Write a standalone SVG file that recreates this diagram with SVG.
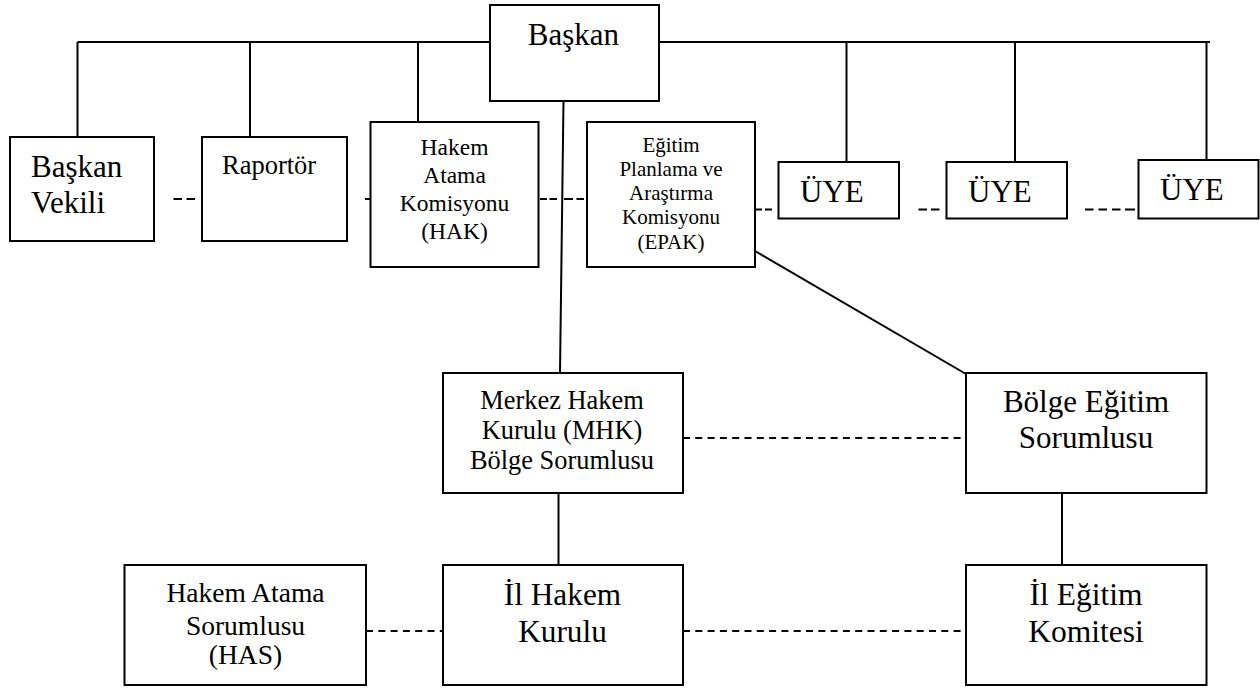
<svg xmlns="http://www.w3.org/2000/svg" width="1260" height="689" viewBox="0 0 1260 689">
<style>
.box{fill:#fff;stroke:#000;stroke-width:2}
.ln{fill:none;stroke:#000;stroke-width:2}
.dt{fill:none;stroke:#000;stroke-width:2}
.dl{fill:none;stroke:#000;stroke-width:2;stroke-dasharray:7 5.3}
text{font-family:"Liberation Serif","Times New Roman",serif;fill:#000}
.c{text-anchor:middle}
</style>
<rect width="1260" height="689" fill="#fff"/>
<g id="connectors">
<path class="ln" d="M77.5,42 H490 M659,42 H1210"/>
<path class="ln" d="M77.5,42 V137 M250,42 V137 M418,42 V122 M846.5,42 V162 M1015,42 V162 M1206.5,42 V160"/>
<path class="ln" d="M563.5,101 L560,373"/>
<path class="ln" d="M558.5,493 V565 M1062,493 V565"/>
<path class="ln" d="M755,251 L966,374"/>
<path class="dt" d="M173.5,199 h8.5 M186.5,199 h8.5 M365,199 h5 M540,199 h7 M549.5,199 h7.5 M564,199 h9 M576.5,199 h7.5 M755,209.5 h7 M765,209.5 h7 M918.5,209.5 h8.5 M931,209.5 h8.5 M1085,209.5 h8.5 M1098.5,209.5 h8.5 M1112,209.5 h8.5 M1125,209.5 h10"/>
<path class="dl" d="M683,438 H966 M366,631 H443 M683,631 H966"/>
</g>
<g id="baskan"><rect class="box" x="490" y="5" width="169" height="96"/><text class="c" x="573.5" y="45" font-size="31">Başkan</text></g>
<g id="baskan-vekili"><rect class="box" x="10" y="137" width="144" height="104"/><text x="31" y="177" font-size="31">Başkan</text><text x="31" y="213" font-size="31">Vekili</text></g>
<g id="raportor"><rect class="box" x="202" y="137" width="145" height="104"/><text x="222" y="174" font-size="26.5">Raportör</text></g>
<g id="hak"><rect class="box" x="370.5" y="122" width="168" height="145"/>
<text class="c" x="454.5" y="155" font-size="23.5">Hakem</text>
<text class="c" x="454.5" y="183" font-size="23.5">Atama</text>
<text class="c" x="454.5" y="211" font-size="23.5">Komisyonu</text>
<text class="c" x="454.5" y="239" font-size="23.5">(HAK)</text></g>
<g id="epak"><rect class="box" x="587" y="122" width="168" height="145"/>
<text class="c" x="671" y="151.5" font-size="21">Eğitim</text>
<text class="c" x="671" y="175.8" font-size="21">Planlama ve</text>
<text class="c" x="671" y="200.1" font-size="21">Araştırma</text>
<text class="c" x="671" y="224.4" font-size="21">Komisyonu</text>
<text class="c" x="671" y="248.7" font-size="21">(EPAK)</text></g>
<g id="uye1"><rect class="box" x="778.5" y="162" width="120.5" height="56.5"/><text x="800" y="201.5" font-size="31">ÜYE</text></g>
<g id="uye2"><rect class="box" x="946.5" y="162" width="120.5" height="56.5"/><text x="968" y="201.5" font-size="31">ÜYE</text></g>
<g id="uye3"><rect class="box" x="1138.5" y="160" width="120" height="58.5"/><text x="1160" y="199.5" font-size="31">ÜYE</text></g>
<g id="mhk"><rect class="box" x="443" y="373" width="240" height="120"/>
<text class="c" x="562" y="408.5" font-size="26.4">Merkez Hakem</text>
<text class="c" x="562" y="439" font-size="26.4">Kurulu (MHK)</text>
<text class="c" x="562" y="468.5" font-size="26.4">Bölge Sorumlusu</text></g>
<g id="bolge-egitim"><rect class="box" x="966" y="373" width="240.5" height="120"/>
<text class="c" x="1086" y="411.5" font-size="31">Bölge Eğitim</text>
<text class="c" x="1086" y="448" font-size="31">Sorumlusu</text></g>
<g id="has"><rect class="box" x="124.5" y="565" width="241.5" height="120"/>
<text class="c" x="245.5" y="601.5" font-size="27.5">Hakem Atama</text>
<text class="c" x="245.5" y="634.5" font-size="27.5">Sorumlusu</text>
<text class="c" x="245.5" y="664" font-size="27.5">(HAS)</text></g>
<g id="il-hakem"><rect class="box" x="443" y="565" width="240" height="120"/>
<text class="c" x="562.5" y="605" font-size="31.3">İl Hakem</text>
<text class="c" x="562.5" y="641.5" font-size="31.3">Kurulu</text></g>
<g id="il-egitim"><rect class="box" x="966" y="565" width="240.5" height="120"/>
<text class="c" x="1086" y="605" font-size="31.5">İl Eğitim</text>
<text class="c" x="1086" y="641.5" font-size="31.5">Komitesi</text></g>
</svg>
